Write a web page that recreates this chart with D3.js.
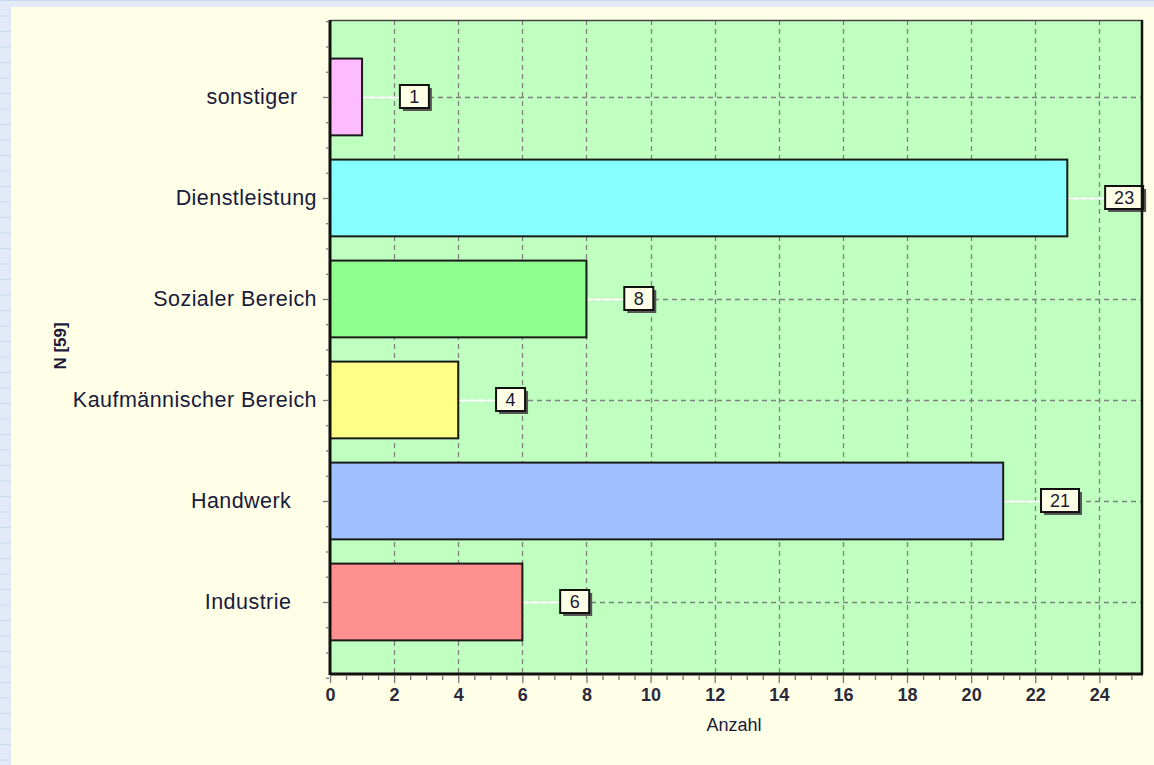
<!DOCTYPE html>
<html>
<head>
<meta charset="utf-8">
<script src="https://cdn.jsdelivr.net/npm/d3@7"></script>
<style>
  body { margin: 0; background: #e2eaf7; }
  svg { display: block; font-family: "Liberation Sans", Arial, sans-serif; }
</style>
</head>
<body>
<div class="canvas"></div>
<script>
// categories from top to bottom, with trailing spaces as in the original labels
const categories = ['sonstiger   ', 'Dienstleistung', 'Sozialer Bereich', 'Kaufmännischer Bereich', 'Handwerk    ', 'Industrie    '];
const values = [1, 23, 8, 4, 21, 6];
const colors = ['#ffbbff', '#88ffff', '#90ff90', '#ffff88', '#a0c0ff', '#ff9090'];
const xTicks = [0, 2, 4, 6, 8, 10, 12, 14, 16, 18, 20, 22, 24];

const dims = { width: 1154, height: 765 };
const plot = { left: 330, right: 1142, top: 20, bottom: 674 };

const svg = d3.select('.canvas')
  .append('svg')
  .attr('width', dims.width)
  .attr('height', dims.height);

// lined blue page behind the cream panel
const stripes = svg.append('g');
stripes.append('rect').attr('width', dims.width).attr('height', dims.height).attr('fill', '#e2eaf7');
d3.range(0, dims.height, 15.5).forEach(y => {
  stripes.append('line')
    .attr('x1', 0).attr('x2', dims.width)
    .attr('y1', y + 0.5).attr('y2', y + 0.5)
    .attr('stroke', '#c9d8f0').attr('stroke-width', 1);
});
svg.append('rect')
  .attr('x', 11).attr('y', 7)
  .attr('width', dims.width - 11).attr('height', dims.height - 7)
  .attr('fill', '#ffffe8');

// scales
const x = d3.scaleLinear().domain([0, 25.33]).range([plot.left, plot.right]);
// y on category index (0 = bottom)
const y = d3.scaleLinear().domain([-0.713, 5.762]).range([plot.bottom, plot.top]);
const idx = i => categories.length - 1 - i;
const halfBar = 0.38;

const graph = svg.append('g');

graph.append('rect')
  .attr('x', plot.left).attr('y', plot.top)
  .attr('width', plot.right - plot.left).attr('height', plot.bottom - plot.top)
  .attr('fill', '#bfffbf');

// grid lines
graph.selectAll('.vgrid').data(xTicks.filter(d => d > 0))
  .enter().append('line')
  .attr('class', 'vgrid')
  .attr('x1', d => Math.round(x(d)) + 0.5).attr('x2', d => Math.round(x(d)) + 0.5)
  .attr('y1', plot.top).attr('y2', plot.bottom)
  .attr('stroke', '#808080').attr('stroke-width', 1.3)
  .attr('stroke-dasharray', '5,4');

graph.selectAll('.hgrid').data(categories)
  .enter().append('line')
  .attr('class', 'hgrid')
  .attr('x1', plot.left).attr('x2', plot.right)
  .attr('y1', (d, i) => Math.round(y(idx(i))) + 0.5).attr('y2', (d, i) => Math.round(y(idx(i))) + 0.5)
  .attr('stroke', '#808080').attr('stroke-width', 1.3)
  .attr('stroke-dasharray', '5,4');

// connector lines from bar end to label box
const boxGap = 1.18;
graph.selectAll('.conn').data(values)
  .enter().append('line')
  .attr('class', 'conn')
  .attr('x1', d => x(d)).attr('x2', d => x(d + boxGap))
  .attr('y1', (d, i) => Math.round(y(idx(i))) + 0.5).attr('y2', (d, i) => Math.round(y(idx(i))) + 0.5)
  .attr('stroke', '#ffffff').attr('stroke-width', 2);

// bars
graph.selectAll('.bar').data(values)
  .enter().append('rect')
  .attr('class', 'bar')
  .attr('x', x(0))
  .attr('y', (d, i) => y(idx(i) + halfBar))
  .attr('width', d => x(d) - x(0))
  .attr('height', (d, i) => y(idx(i) - halfBar) - y(idx(i) + halfBar))
  .attr('fill', (d, i) => colors[i])
  .attr('stroke', '#1a1a1a').attr('stroke-width', 2);

// value label boxes
const labels = graph.selectAll('.vlabel').data(values)
  .enter().append('g')
  .attr('class', 'vlabel')
  .attr('transform', (d, i) => `translate(${x(d + boxGap)}, ${Math.round(y(idx(i)))})`);

const boxW = d => String(d).length > 1 ? 38 : 29;
labels.append('rect')
  .attr('x', 3).attr('y', -9)
  .attr('width', boxW).attr('height', 23)
  .attr('fill', '#555');
labels.append('rect')
  .attr('x', 0).attr('y', -12)
  .attr('width', boxW).attr('height', 23)
  .attr('fill', '#ffffe8')
  .attr('stroke', '#111').attr('stroke-width', 2);
labels.append('text')
  .attr('x', d => boxW(d) / 2).attr('y', 6)
  .attr('text-anchor', 'middle')
  .attr('font-size', 18)
  .attr('fill', '#1a1a30')
  .text(d => d);

// plot frame
graph.append('line')
  .attr('x1', plot.left).attr('x2', plot.right)
  .attr('y1', plot.top + 0.5).attr('y2', plot.top + 0.5)
  .attr('stroke', '#444').attr('stroke-width', 1.5);
graph.append('line')
  .attr('x1', plot.right).attr('x2', plot.right)
  .attr('y1', plot.top).attr('y2', plot.bottom)
  .attr('stroke', '#111').attr('stroke-width', 2.5);
graph.append('line')
  .attr('x1', plot.left).attr('x2', plot.right + 1)
  .attr('y1', plot.bottom).attr('y2', plot.bottom)
  .attr('stroke', '#111').attr('stroke-width', 3);
graph.append('line')
  .attr('x1', plot.left).attr('x2', plot.left)
  .attr('y1', plot.top).attr('y2', plot.bottom + 1)
  .attr('stroke', '#111').attr('stroke-width', 3);

// x axis: major and minor ticks
const xAxis = d3.axisBottom(x)
  .tickValues(xTicks)
  .tickSize(8)
  .tickPadding(5);
const gx = svg.append('g')
  .attr('transform', `translate(0, ${plot.bottom + 1})`)
  .call(xAxis);
gx.select('.domain').remove();
gx.selectAll('.tick line').attr('stroke', '#777').attr('stroke-width', 1.3);
gx.selectAll('.tick text')
  .attr('font-family', '"Liberation Sans", Arial, sans-serif')
  .attr('font-size', 18).attr('font-weight', 'bold')
  .attr('fill', '#2a2a3a');

const xMinor = d3.axisBottom(x)
  .tickValues(d3.range(0.5, 25.1, 0.5).filter(d => d % 2 !== 0))
  .tickSize(5).tickFormat('');
const gxm = svg.append('g')
  .attr('transform', `translate(0, ${plot.bottom + 1})`)
  .call(xMinor);
gxm.select('.domain').remove();
gxm.selectAll('.tick line').attr('stroke', '#777').attr('stroke-width', 1.3);

// y axis: category ticks and minor quarter ticks
const yAxis = d3.axisLeft(y)
  .tickValues(d3.range(categories.length))
  .tickSize(6).tickPadding(6)
  .tickFormat(d => categories[idx(d)]);
const gy = svg.append('g')
  .attr('transform', `translate(${plot.left - 1}, 0)`)
  .call(yAxis);
gy.select('.domain').remove();
gy.selectAll('.tick line').attr('stroke', '#777').attr('stroke-width', 1.3);
gy.selectAll('.tick text')
  .attr('font-family', '"Liberation Sans", Arial, sans-serif')
  .attr('font-size', 21.5)
  .attr('letter-spacing', 0.45)
  .attr('fill', '#1a1a3a')
  .style('white-space', 'pre');

const yMinor = d3.axisLeft(y)
  .tickValues(d3.range(-0.75, 5.8, 0.25).filter(d => d % 1 !== 0))
  .tickSize(3).tickFormat('');
const gym = svg.append('g')
  .attr('transform', `translate(${plot.left - 1}, 0)`)
  .call(yMinor);
gym.select('.domain').remove();
gym.selectAll('.tick line').attr('stroke', '#777').attr('stroke-width', 1.3);

// axis titles
svg.append('text')
  .attr('x', 734).attr('y', 731)
  .attr('text-anchor', 'middle')
  .attr('font-size', 18)
  .attr('fill', '#1a1a3a')
  .text('Anzahl');

svg.append('text')
  .attr('transform', 'translate(66, 346) rotate(-90)')
  .attr('text-anchor', 'middle')
  .attr('font-size', 17).attr('font-weight', 'bold')
  .attr('fill', '#1a1a3a')
  .text('N [59]');
</script>
</body>
</html>
